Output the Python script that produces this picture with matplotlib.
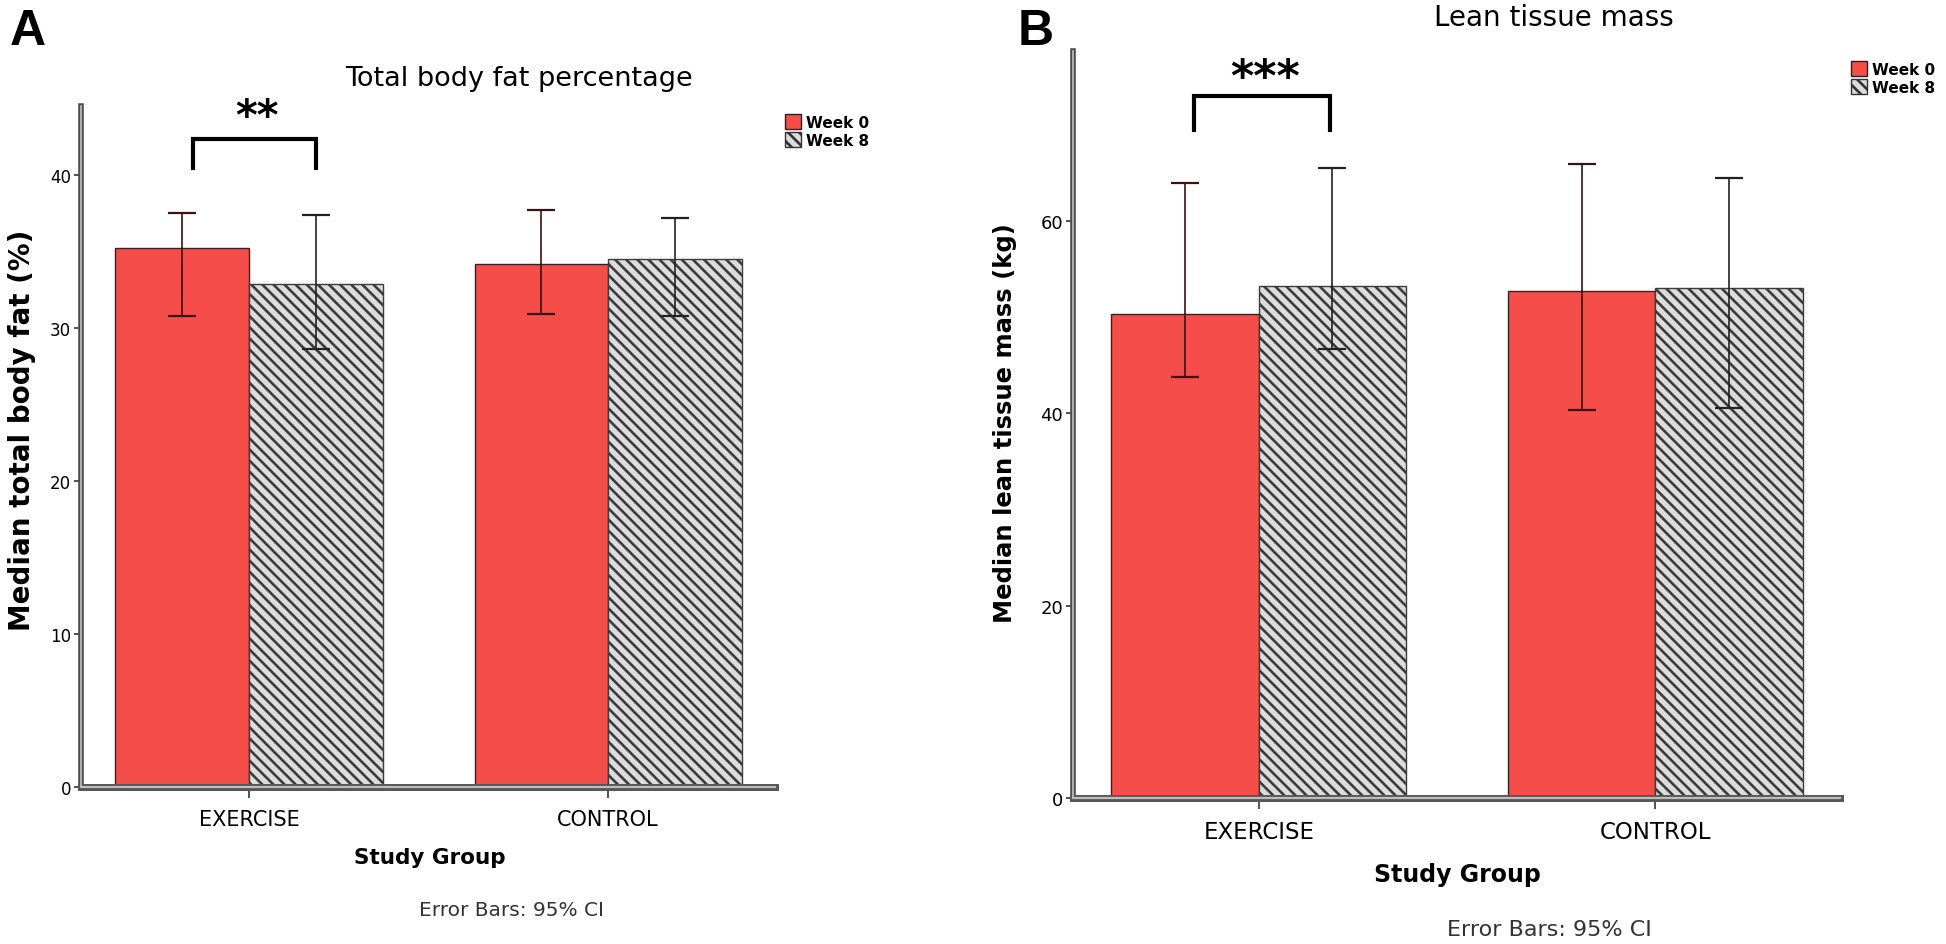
import matplotlib.pyplot as plt
import numpy as np
from matplotlib.patches import Patch

# values (median and 95% CI limits)
groups = ["EXERCISE", "CONTROL"]
weeks = ["Week 0", "Week 8"]

fat_week0 = [35.2, 34.2]
fat_week0_lo = [30.8, 30.9]
fat_week0_hi = [37.5, 37.7]
fat_week8 = [32.9, 34.5]
fat_week8_lo = [28.6, 30.8]
fat_week8_hi = [37.4, 37.2]

lean_week0 = [50.3, 52.7]
lean_week0_lo = [43.8, 40.3]
lean_week0_hi = [63.9, 65.9]
lean_week8 = [53.2, 53.0]
lean_week8_lo = [46.7, 40.5]
lean_week8_hi = [65.5, 64.5]

fat_ticks = [0, 10, 20, 30, 40]
lean_ticks = [0, 20, 40, 60]

RED = "#f44d4a"
HATCH_BG = "#dcdcdc"
plt.rcParams["hatch.linewidth"] = 1.9
plt.rcParams["font.family"] = ["DejaVu Sans"]

fig = plt.figure(figsize=(19.46, 9.45), dpi=100)
axA = fig.add_axes([0.0415, 0.1661, 0.3568, 0.7207])
axB = fig.add_axes([0.5514, 0.1545, 0.3939, 0.7908])

xpos = np.array([0, 2.69])
xlim = (-1.26, 3.94)


def draw_panel(ax, w0, w0lo, w0hi, w8, w8lo, w8hi, ytop, ticks, tick_fs, xt_fs):
    w0, w8 = np.array(w0), np.array(w8)
    err0 = [w0 - np.array(w0lo), np.array(w0hi) - w0]
    err8 = [w8 - np.array(w8lo), np.array(w8hi) - w8]
    ax.bar(xpos - 0.5, w0, width=1, color=RED, edgecolor="#3a2020", linewidth=1)
    ax.bar(xpos + 0.5, w8, width=1, color=HATCH_BG, edgecolor="#3c3c3c",
           linewidth=1, hatch="\\\\\\")
    ax.errorbar(xpos - 0.5, w0, yerr=err0, fmt="none", ecolor="#3a1212",
                elinewidth=1.2, capsize=10, capthick=1.6)
    ax.errorbar(xpos + 0.5, w8, yerr=err8, fmt="none", ecolor="#222222",
                elinewidth=1.2, capsize=10, capthick=1.6)
    ax.set_xlim(*xlim)
    ax.set_ylim(0, ytop)
    ax.set_yticks(ticks)
    ax.set_xticks(xpos)
    ax.set_xticklabels(groups, fontsize=xt_fs)
    for s in ["top", "right"]:
        ax.spines[s].set_visible(False)
    ax.spines["left"].set_linewidth(4)
    ax.spines["left"].set_color("#4a4a4a")
    ax.spines["bottom"].set_linewidth(5)
    ax.spines["bottom"].set_color("#555555")
    ax.plot([xlim[0], xlim[0]], [0, ytop], color="#c4c4c4", lw=1.2,
            clip_on=False, zorder=5)
    ax.plot([xlim[0], xlim[1]], [0, 0], color="#bdbdbd", lw=1.6,
            clip_on=False, zorder=5)
    ax.tick_params(axis="y", direction="out", length=5, width=1.2,
                   color="#333333", labelsize=tick_fs, pad=2)
    ax.tick_params(axis="x", direction="out", length=8, width=1.2,
                   color="#333333", pad=8)


def bracket(ax, x0, x1, ylo, yhi, stars, star_base, fs):
    ax.plot([x0, x0, x1, x1], [ylo, yhi, yhi, ylo], color="black", lw=3,
            clip_on=False, solid_joinstyle="miter")
    ax.text((x0 + x1) / 2 + 0.02, star_base, stars, ha="center",
            va="baseline", fontsize=fs, fontweight="bold", clip_on=False)


# panel A
draw_panel(axA, fat_week0, fat_week0_lo, fat_week0_hi, fat_week8, fat_week8_lo,
           fat_week8_hi, 44.5, fat_ticks, 12, 15)
bracket(axA, -0.42, 0.5, 40.46, 42.36, "**", 43.0, 30)

# panel B
draw_panel(axB, lean_week0, lean_week0_lo, lean_week0_hi, lean_week8,
           lean_week8_lo, lean_week8_hi, 77.7, lean_ticks, 13, 16.5)
bracket(axB, -0.44, 0.48, 69.5, 73.0, "***", 73.6, 32)

handles = [Patch(facecolor=RED, edgecolor="#222222"),
           Patch(facecolor=HATCH_BG, edgecolor="#333333", hatch="\\\\\\")]
fig.legend(handles, weeks, loc="upper left", bbox_to_anchor=(0.3993, 0.886),
           frameon=False, handlelength=1.1, handleheight=1.1,
           handletextpad=0.3, labelspacing=0.15, borderpad=0,
           prop={"size": 11, "weight": "bold"})
fig.legend(handles, weeks, loc="upper left", bbox_to_anchor=(0.947, 0.942),
           frameon=False, handlelength=1.1, handleheight=1.1,
           handletextpad=0.3, labelspacing=0.15, borderpad=0,
           prop={"size": 11, "weight": "bold"})

# titles, axis labels, notes
fig.text(0.2667, 0.9164, "Total body fat percentage", ha="center", va="center",
         fontsize=19.5)
fig.text(0.7986, 0.981, "Lean tissue mass", ha="center", va="center", fontsize=20)

fig.text(0.0113, 0.545, "Median total body fat (%)", rotation=90, ha="center",
         va="center", fontsize=20, fontweight="bold")
fig.text(0.5164, 0.552, "Median lean tissue mass (kg)", rotation=90, ha="center",
         va="center", fontsize=17.5, fontweight="bold")

fig.text(0.221, 0.092, "Study Group", ha="center", va="center", fontsize=15.5,
         fontweight="bold")
fig.text(0.7487, 0.074, "Study Group", ha="center", va="center", fontsize=17,
         fontweight="bold")

fig.text(0.2626, 0.037, "Error Bars: 95% CI", ha="center", va="center",
         fontsize=14.5, color="#333333")
fig.text(0.796, 0.016, "Error Bars: 95% CI", ha="center", va="center",
         fontsize=16, color="#333333")

fig.text(0.005, 0.99, "A", ha="left", va="top", fontsize=36, fontweight="bold",
         family="Liberation Sans")
fig.text(0.523, 0.99, "B", ha="left", va="top", fontsize=36, fontweight="bold",
         family="Liberation Sans")

fig.savefig("out.png", dpi=100)
